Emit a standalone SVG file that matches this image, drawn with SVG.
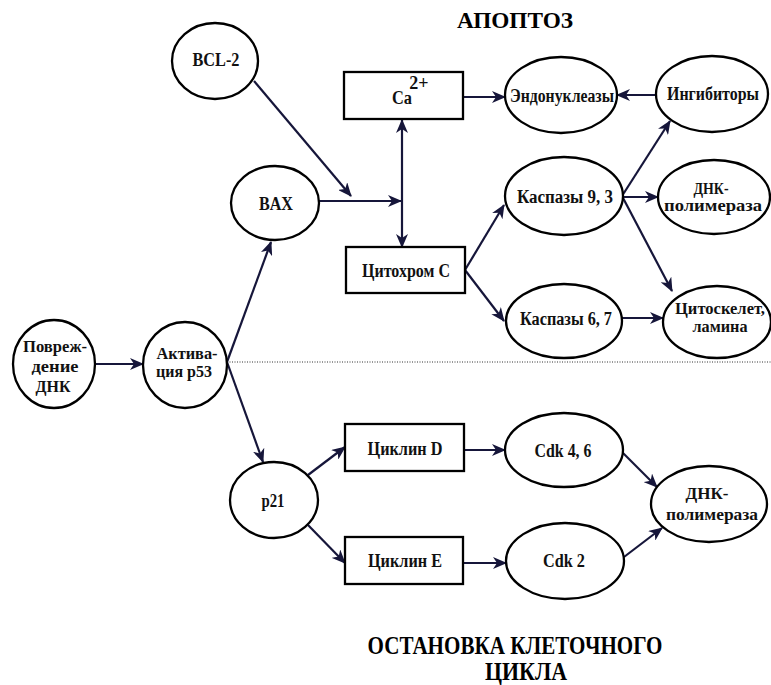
<svg xmlns="http://www.w3.org/2000/svg" width="771" height="685" viewBox="0 0 771 685">
<defs>
<style>
.n{fill:#fff;stroke:#000;stroke-width:2.3}
.t{font-family:'Liberation Serif','DejaVu Serif','Times New Roman',serif;font-weight:bold;font-size:18px;fill:#111;text-anchor:middle}
.m{font-size:16px}
.h{font-family:'Liberation Serif','DejaVu Serif','Times New Roman',serif;font-weight:bold;fill:#000;text-anchor:middle}
.c{fill:none;stroke:#16163a;stroke-width:2.2}
.d{fill:none;stroke:#333;stroke-width:1;stroke-dasharray:1 1.5}
</style>
<marker id="a" viewBox="0 0 14 12" refX="13" refY="6" markerWidth="14" markerHeight="12" markerUnits="userSpaceOnUse" orient="auto-start-reverse">
<path d="M0,0 L14,6 L0,12 L4,6 Z" fill="#16163a"/>
</marker>
</defs>
<rect width="771" height="685" fill="#fff"/>

<text class="h" x="515" y="28" font-size="23" textLength="116" lengthAdjust="spacingAndGlyphs">АПОПТОЗ</text>
<text class="h" x="515" y="654" font-size="25" textLength="295" lengthAdjust="spacingAndGlyphs">ОСТАНОВКА КЛЕТОЧНОГО</text>
<text class="h" x="526" y="680" font-size="25" textLength="82" lengthAdjust="spacingAndGlyphs">ЦИКЛА</text>

<g id="connectors">
<path class="d" d="M227,362 L771,362"/>
<path class="c" d="M254,81 L351,196" marker-end="url(#a)"/>
<path class="c" d="M319,201 L401,201" marker-end="url(#a)"/>
<path class="c" d="M402,120 L402,247" marker-start="url(#a)" marker-end="url(#a)"/>
<path class="c" d="M463,97 L505,97" marker-end="url(#a)"/>
<path class="c" d="M657,95 L617,95" marker-end="url(#a)"/>
<path class="c" d="M465,270 L504,205" marker-end="url(#a)"/>
<path class="c" d="M465,270 L504,321" marker-end="url(#a)"/>
<path class="c" d="M622,196 L670,121" marker-end="url(#a)"/>
<path class="c" d="M623,197 L658,197" marker-end="url(#a)"/>
<path class="c" d="M622,196 L672,291" marker-end="url(#a)"/>
<path class="c" d="M622,318 L663,318" marker-end="url(#a)"/>
<path class="c" d="M94,364 L143,364" marker-end="url(#a)"/>
<path class="c" d="M227,362 L271,242" marker-end="url(#a)"/>
<path class="c" d="M227,362 L263,462" marker-end="url(#a)"/>
<path class="c" d="M308,475 L345,447" marker-end="url(#a)"/>
<path class="c" d="M308,525 L345,563" marker-end="url(#a)"/>
<path class="c" d="M464,450 L505,450" marker-end="url(#a)"/>
<path class="c" d="M463,563 L506,563" marker-end="url(#a)"/>
<path class="c" d="M623,453 L657,487" marker-end="url(#a)"/>
<path class="c" d="M624,557 L662,528" marker-end="url(#a)"/>
</g>

<g id="bcl2"><ellipse class="n" cx="215" cy="61" rx="43" ry="38"/><text class="t" x="216" y="66" textLength="47" lengthAdjust="spacingAndGlyphs">BCL-2</text></g>
<g id="bax"><ellipse class="n" cx="275" cy="203" rx="44" ry="37"/><text class="t" x="276" y="210" textLength="34" lengthAdjust="spacingAndGlyphs">BAX</text></g>
<g id="ca"><rect class="n" x="344" y="72" width="119" height="47"/><text class="t" x="402" y="104" font-size="20" textLength="20" lengthAdjust="spacingAndGlyphs">Ca</text><text class="t" x="419" y="89" font-size="13">2+</text></g>
<g id="cyt"><rect class="n" x="346" y="247" width="119" height="46"/><text class="t" x="406" y="277" textLength="88" lengthAdjust="spacingAndGlyphs">Цитохром С</text></g>
<g id="endo"><ellipse class="n" cx="561" cy="95" rx="56" ry="38"/><text class="t" x="562" y="102" textLength="104" lengthAdjust="spacingAndGlyphs">Эндонуклеазы</text></g>
<g id="ingib"><ellipse class="n" cx="712" cy="94" rx="56" ry="38"/><text class="t" x="713" y="100" textLength="92" lengthAdjust="spacingAndGlyphs">Ингибиторы</text></g>
<g id="kasp93"><ellipse class="n" cx="564" cy="196" rx="59" ry="39"/><text class="t" x="565" y="203" textLength="96" lengthAdjust="spacingAndGlyphs">Каспазы 9, 3</text></g>
<g id="dnkpol1"><ellipse class="n" cx="714" cy="197" rx="56" ry="37"/><text class="t m" x="711" y="194" textLength="35" lengthAdjust="spacingAndGlyphs">ДНК-</text><text class="t m" x="713" y="211" textLength="98" lengthAdjust="spacingAndGlyphs">полимераза</text></g>
<g id="kasp67"><ellipse class="n" cx="564" cy="321" rx="58" ry="37"/><text class="t" x="566" y="325" textLength="92" lengthAdjust="spacingAndGlyphs">Каспазы 6, 7</text></g>
<g id="cytosk"><ellipse class="n" cx="717" cy="322" rx="54" ry="36"/><text class="t m" x="720" y="314" textLength="90" lengthAdjust="spacingAndGlyphs">Цитоскелет,</text><text class="t m" x="720" y="332" textLength="55" lengthAdjust="spacingAndGlyphs">ламина</text></g>
<g id="damage"><ellipse class="n" cx="54" cy="364" rx="41" ry="44"/><text class="t m" x="55" y="352" textLength="64" lengthAdjust="spacingAndGlyphs">Повреж-</text><text class="t m" x="55" y="372" textLength="47" lengthAdjust="spacingAndGlyphs">дение</text><text class="t m" x="53" y="392" textLength="35" lengthAdjust="spacingAndGlyphs">ДНК</text></g>
<g id="p53"><ellipse class="n" cx="185" cy="365" rx="42" ry="43"/><text class="t m" x="187" y="359" textLength="61" lengthAdjust="spacingAndGlyphs">Актива-</text><text class="t m" x="184" y="377" textLength="56" lengthAdjust="spacingAndGlyphs">ция p53</text></g>
<g id="p21"><ellipse class="n" cx="274" cy="500" rx="44" ry="38"/><text class="t" x="273" y="507" textLength="23" lengthAdjust="spacingAndGlyphs">p21</text></g>
<g id="cyclinD"><rect class="n" x="345" y="424" width="119" height="47"/><text class="t" x="405" y="455" textLength="75" lengthAdjust="spacingAndGlyphs">Циклин D</text></g>
<g id="cyclinE"><rect class="n" x="345" y="537" width="118" height="47"/><text class="t" x="405" y="567" textLength="74" lengthAdjust="spacingAndGlyphs">Циклин E</text></g>
<g id="cdk46"><ellipse class="n" cx="564" cy="450" rx="59" ry="37"/><text class="t" x="563" y="457" textLength="57" lengthAdjust="spacingAndGlyphs">Cdk 4, 6</text></g>
<g id="cdk2"><ellipse class="n" cx="565" cy="561" rx="59" ry="38"/><text class="t" x="564" y="567" textLength="42" lengthAdjust="spacingAndGlyphs">Cdk 2</text></g>
<g id="dnkpol2"><ellipse class="n" cx="709" cy="504" rx="58" ry="38"/><text class="t m" x="707" y="499" textLength="43" lengthAdjust="spacingAndGlyphs">ДНК-</text><text class="t m" x="712" y="520" textLength="92" lengthAdjust="spacingAndGlyphs">полимераза</text></g>
</svg>
